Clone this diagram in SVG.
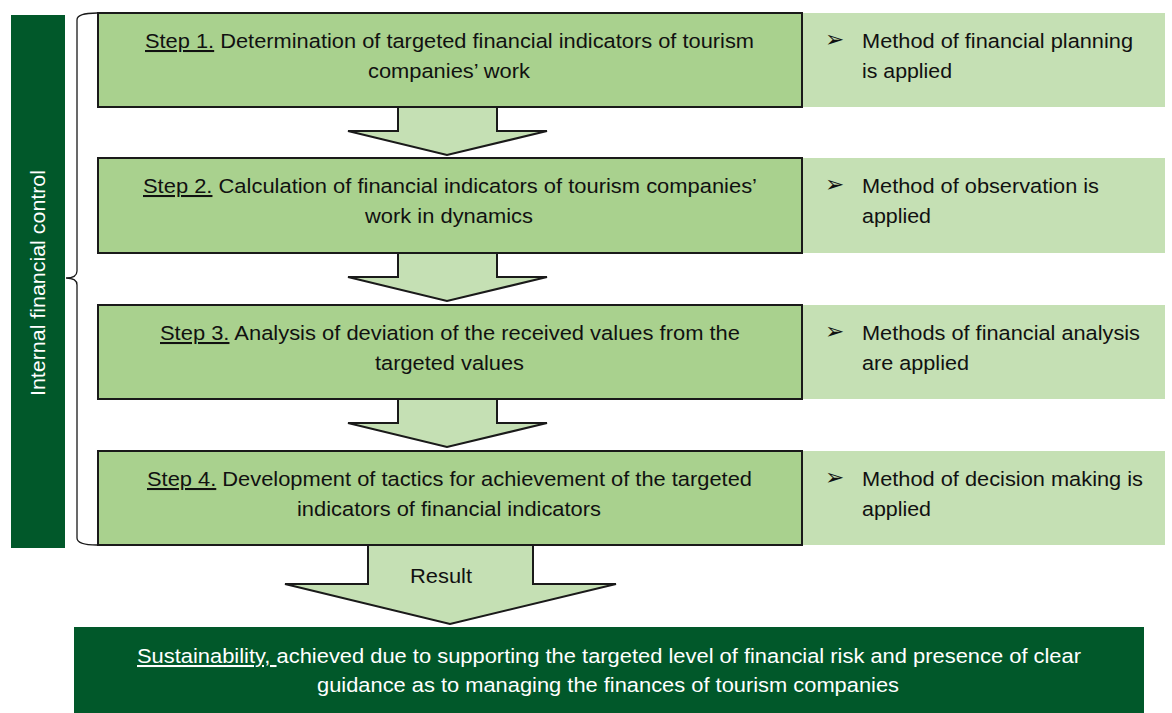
<svg xmlns="http://www.w3.org/2000/svg" width="1172" height="713" viewBox="0 0 1172 713">
<style>
.step{fill:#a9d18e;stroke:#1a1a1a;stroke-width:2}
.side{fill:#c5e0b4}
.arrow{fill:#c5e0b4;stroke:#1a1a1a;stroke-width:2;stroke-linejoin:miter}
.dark{fill:#01582a}
.t{font-family:"Liberation Sans",Arial,sans-serif;font-size:20.5px;fill:#111}
.w{font-family:"Liberation Sans",Arial,sans-serif;font-size:20.5px;fill:#fff}
.c{text-anchor:middle}
.u{text-decoration:underline}
.b{font-family:"DejaVu Sans",sans-serif;font-size:23px;fill:#111}
</style>
<rect width="1172" height="713" fill="#fff"/>
<g id="side-bar">
<rect class="dark" x="11" y="15" width="54" height="533"/>
<text class="w c" transform="translate(45,283) rotate(-90)" textLength="226" lengthAdjust="spacingAndGlyphs">Internal financial control</text>
</g>
<g id="brace">
<path d="M97,13 Q77,13 77,20 L77,271 Q77,278 66,278 Q77,278 77,285 L77,538 Q77,545 97,545" fill="none" stroke="#1a1a1a" stroke-width="1.3"/>
</g>
<g id="connectors">
<path class="arrow" d="M398,107 L398,131 L348,131 L447,155 L547,131 L497,131 L497,107"/>
<path class="arrow" d="M398,253 L398,277 L348,277 L447,301 L547,277 L497,277 L497,253"/>
<path class="arrow" d="M398,399 L398,423 L348,423 L447,447 L547,423 L497,423 L497,399"/>
<path class="arrow" d="M368,545 L368,584 L285,584 L450,624 L616,584 L533,584 L533,545"/>
<text class="t" x="410" y="583" textLength="62" lengthAdjust="spacingAndGlyphs">Result</text>
</g>
<g id="step1">
<rect class="side" x="802" y="13" width="363" height="94"/>
<rect class="step" x="98" y="13" width="704" height="94"/>
<text class="t" x="145" y="48" textLength="609" lengthAdjust="spacingAndGlyphs"><tspan class="u">Step 1.</tspan> Determination of targeted financial indicators of tourism</text>
<text class="t" x="368" y="78" textLength="162" lengthAdjust="spacingAndGlyphs">companies’ work</text>
<text class="b" x="825" y="47">➢</text>
<text class="t" x="862" y="48" textLength="271" lengthAdjust="spacingAndGlyphs">Method of financial planning</text>
<text class="t" x="862" y="78" textLength="90" lengthAdjust="spacingAndGlyphs">is applied</text>
</g>
<g id="step2">
<rect class="side" x="802" y="158" width="363" height="95"/>
<rect class="step" x="98" y="158" width="704" height="95"/>
<text class="t" x="143" y="193" textLength="614" lengthAdjust="spacingAndGlyphs"><tspan class="u">Step 2.</tspan> Calculation of financial indicators of tourism companies’</text>
<text class="t" x="365" y="223" textLength="168" lengthAdjust="spacingAndGlyphs">work in dynamics</text>
<text class="b" x="825" y="192">➢</text>
<text class="t" x="862" y="193" textLength="237" lengthAdjust="spacingAndGlyphs">Method of observation is</text>
<text class="t" x="862" y="223" textLength="69" lengthAdjust="spacingAndGlyphs">applied</text>
</g>
<g id="step3">
<rect class="side" x="802" y="305" width="363" height="94"/>
<rect class="step" x="98" y="305" width="704" height="94"/>
<text class="t" x="160" y="340" textLength="580" lengthAdjust="spacingAndGlyphs"><tspan class="u">Step 3.</tspan> Analysis of deviation of the received values from the</text>
<text class="t" x="375" y="370" textLength="149" lengthAdjust="spacingAndGlyphs">targeted values</text>
<text class="b" x="825" y="339">➢</text>
<text class="t" x="862" y="340" textLength="278" lengthAdjust="spacingAndGlyphs">Methods of financial analysis</text>
<text class="t" x="862" y="370" textLength="107" lengthAdjust="spacingAndGlyphs">are applied</text>
</g>
<g id="step4">
<rect class="side" x="802" y="451" width="363" height="94"/>
<rect class="step" x="98" y="451" width="704" height="94"/>
<text class="t" x="147" y="486" textLength="605" lengthAdjust="spacingAndGlyphs"><tspan class="u">Step 4.</tspan> Development of tactics for achievement of the targeted</text>
<text class="t" x="297" y="516" textLength="304" lengthAdjust="spacingAndGlyphs">indicators of financial indicators</text>
<text class="b" x="825" y="485">➢</text>
<text class="t" x="862" y="486" textLength="281" lengthAdjust="spacingAndGlyphs">Method of decision making is</text>
<text class="t" x="862" y="516" textLength="69" lengthAdjust="spacingAndGlyphs">applied</text>
</g>
<g id="result">
<rect class="dark" x="74" y="627" width="1070" height="86"/>
<text class="w" x="137" y="663" textLength="944" lengthAdjust="spacingAndGlyphs"><tspan class="u">Sustainability, </tspan>achieved due to supporting the targeted level of financial risk and presence of clear</text>
<text class="w" x="317" y="692" textLength="582" lengthAdjust="spacingAndGlyphs">guidance as to managing the finances of tourism companies</text>
</g>
</svg>
